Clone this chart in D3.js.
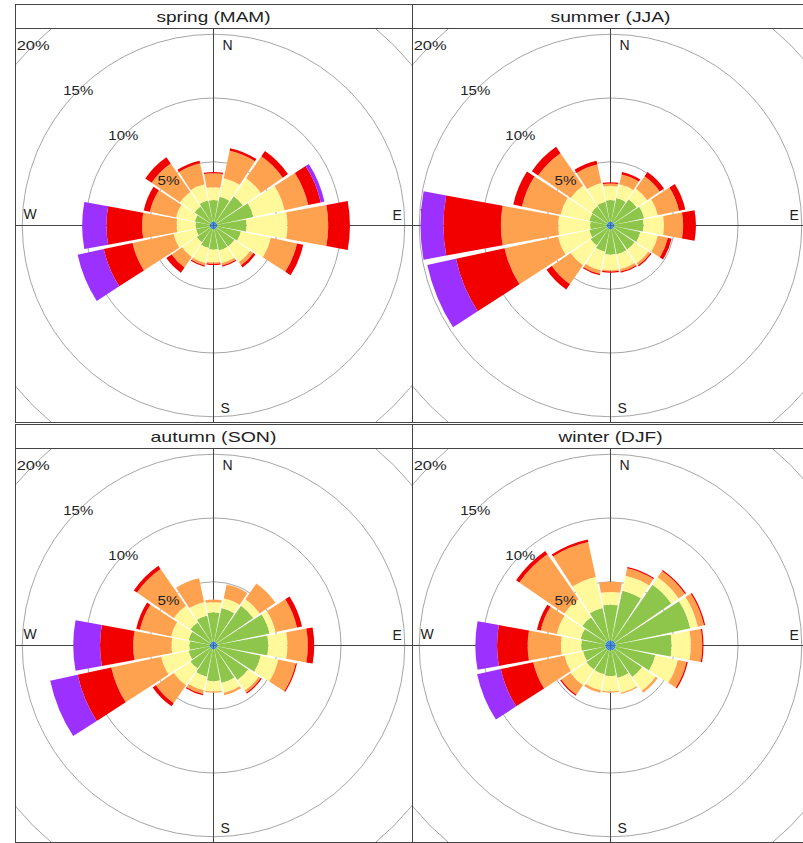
<!DOCTYPE html>
<html>
<head>
<meta charset="utf-8">
<script src="https://cdn.jsdelivr.net/npm/d3@7"></script>
<style>
  body { margin: 0; background: #fff; }
  text { font-family: Arial, "Liberation Sans", Helvetica, sans-serif; fill: #222; }
</style>
</head>
<body>
<svg id="chart" width="803" height="843"></svg>
<script>
// ---------- data ----------
const directions = [0, 22.5, 45, 67.5, 90, 112.5, 135, 157.5, 180, 202.5, 225, 247.5, 270, 292.5, 315, 337.5];
const seasons = ["spring (MAM)", "summer (JJA)", "autumn (SON)", "winter (DJF)"];
const speedBins = ["bin1", "bin2", "bin3", "bin4", "bin5", "bin6"];
const binColours = ["#2A78D0", "#8DC64A", "#FFF99C", "#FFA24F", "#F20000", "#9B30FF"];
const gridTicks = [5, 10, 15, 20];
const tickLabels = ["5%", "10%", "15%", "20%"];
const compass = ["N", "E", "S", "W"];

// frequency (%) per direction for each speed bin
const springB1 = [0.3,0.3,0.3,0.3,0.3,0.3,0.3,0.3,0.3,0.3,0.3,0.3,0.3,0.3,0.3,0.3];
const springB2 = [1.7,2.0,2.5,2.9,2.3,1.9,1.7,1.7,1.6,1.5,1.3,1.1,1.1,1.2,1.5,1.7];
const springB3 = [1.0,1.5,1.7,2.5,3.2,2.4,1.5,1.0,1.0,1.2,1.4,1.8,1.5,1.5,1.4,1.3];
const springB4 = [1.1,2.2,2.1,1.9,3.2,2.1,0.3,0.2,0.1,0.2,1.0,3.3,2.7,2.1,2.7,1.7];
const springB5 = [0.1,0.2,0.5,1.0,1.7,0.5,0.2,0.1,0.1,0.1,0.5,2.3,2.8,0.5,0.6,0.2];
const springB6 = [0,0,0,0.3,0,0,0,0,0,0,0,2.1,1.9,0,0,0];

const summerB1 = [0.3,0.3,0.3,0.3,0.3,0.3,0.3,0.3,0.3,0.3,0.3,0.3,0.3,0.3,0.3,0.3];
const summerB2 = [1.7,1.9,2.2,2.4,2.3,2.1,2.0,2.0,2.0,1.8,1.6,1.4,1.3,1.4,1.5,1.6];
const summerB3 = [1.1,1.1,1.0,1.1,1.6,1.4,1.3,1.2,1.2,1.5,1.9,2.5,2.5,2.3,2.0,1.5];
const summerB4 = [0.2,0.8,1.2,1.7,1.5,0.8,0.2,0.2,0.1,0.3,1.8,4.3,4.5,3.1,3.1,1.5];
const summerB5 = [0.1,0.2,0.4,0.5,1.0,0.3,0.1,0.1,0.1,0.1,0.5,3.9,4.5,0.7,0.6,0.3];
const summerB6 = [0,0,0,0,0,0,0,0,0,0,0,2.3,1.8,0,0,0];

const autumnB1 = [0.3,0.3,0.3,0.3,0.3,0.3,0.3,0.3,0.3,0.3,0.3,0.3,0.3,0.3,0.3,0.3];
const autumnB2 = [2.3,2.7,3.5,4.2,4.0,3.5,3.0,2.7,2.5,2.2,1.9,1.7,1.6,1.7,1.9,2.1];
const autumnB3 = [0.8,0.8,0.6,0.5,1.5,1.4,1.0,0.8,0.8,1.1,1.6,2.2,1.4,1.4,1.6,1.1];
const autumnB4 = [0.2,1.1,1.5,1.7,1.6,1.4,0.2,0.2,0.1,0.3,1.7,4.0,3.0,2.5,3.5,1.9];
const autumnB5 = [0,0,0,0.4,0.5,0.1,0.1,0,0,0.1,0.3,2.7,2.6,0.3,0.3,0];
const autumnB6 = [0,0,0,0,0,0,0,0,0,0,0,2.2,2.1,0,0,0];

const winterB1 = [0.4,0.4,0.4,0.4,0.4,0.4,0.4,0.4,0.4,0.4,0.4,0.4,0.4,0.4,0.4,0.4];
const winterB2 = [2.8,4.0,5.4,6.0,4.4,3.2,2.6,2.2,2.0,1.9,1.9,1.8,1.9,2.0,2.3,2.6];
const winterB3 = [1.0,1.2,0.7,0.6,1.5,1.8,1.3,1.2,1.2,1.3,1.5,1.5,1.6,1.9,1.7,2.5];
const winterB4 = [0.8,0.6,0.6,0.5,0.9,0.7,0.2,0.1,0.1,0.2,0.9,2.5,2.6,1.3,4.3,2.8];
const winterB5 = [0,0.1,0.1,0.1,0.1,0.1,0,0,0,0,0.1,2.6,2.4,0.3,0.3,0.2];
const winterB6 = [0,0,0,0,0,0,0,0,0,0,0,1.9,1.7,0,0,0];

const seasonData = [
  [springB1, springB2, springB3, springB4, springB5, springB6],
  [summerB1, summerB2, summerB3, summerB4, summerB5, summerB6],
  [autumnB1, autumnB2, autumnB3, autumnB4, autumnB5, autumnB6],
  [winterB1, winterB2, winterB3, winterB4, winterB5, winterB6]
];

// ---------- layout ----------
const svg = d3.select("#chart");
const colX = [15, 412];
const rowY = [4, 424];
const panelW = 397, stripH = 24, panelH = 395;
const stripTextLen = [114, 120, 126, 104];
const tickTextLen = [22, 30, 30, 33];

const sectorWidth = 22.5 * 0.92;
const rScale = d3.scaleLinear().domain([0, 20]).range([0, 255]);
const toRad = d => d * Math.PI / 180;
const arc = d3.arc();

seasons.forEach((name, si) => {
  const x0 = colX[si % 2], y0 = rowY[Math.floor(si / 2)];
  const py = y0 + stripH;
  const cx = x0 + panelW / 2, cy = py + panelH / 2;

  const clipId = "clip" + si;
  svg.append("clipPath").attr("id", clipId)
    .append("rect").attr("x", x0).attr("y", py).attr("width", panelW).attr("height", panelH);

  const panel = svg.append("g").attr("clip-path", `url(#${clipId})`);
  const g = panel.append("g").attr("transform", `translate(${cx},${cy})`);

  // grid circles
  g.selectAll("circle.grid").data(gridTicks).join("circle")
    .attr("class", "grid").attr("r", d => rScale(d))
    .attr("fill", "none").attr("stroke", "#a6a6a6").attr("stroke-width", 1);

  // axes
  g.append("line").attr("x1", 0).attr("x2", 0).attr("y1", -panelH).attr("y2", panelH)
    .attr("stroke", "#444").attr("stroke-width", 1);
  g.append("line").attr("y1", 0).attr("y2", 0).attr("x1", -panelW).attr("x2", panelW)
    .attr("stroke", "#444").attr("stroke-width", 1);

  // compass labels (under bars)
  const compassPos = {N: [9, -(panelH / 2) + 22, "start"], S: [7, panelH / 2 - 10, "start"],
                      W: [-190, -7, "start"], E: [179, -6, "start"]};
  compass.forEach(c => {
    const p = compassPos[c];
    g.append("text").attr("x", p[0]).attr("y", p[1]).attr("text-anchor", p[2])
      .attr("font-size", 14).text(c);
  });

  // stacked wedges
  const bins = seasonData[si];
  const wedges = [];
  directions.forEach((dir, di) => {
    let cum = 0;
    bins.forEach((arr, bi) => {
      const v = arr[di];
      if (v > 0) wedges.push({dir, inner: cum, outer: cum + v, bin: bi});
      cum += v;
    });
  });
  g.selectAll("path.wedge").data(wedges).join("path")
    .attr("class", "wedge")
    .attr("d", d => arc({innerRadius: rScale(d.inner), outerRadius: rScale(d.outer),
                         startAngle: toRad(d.dir - sectorWidth / 2), endAngle: toRad(d.dir + sectorWidth / 2)}))
    .attr("fill", d => binColours[d.bin]);

  // percentage labels (on top), along 315 degrees
  gridTicks.forEach((t, i) => {
    const r = rScale(t);
    g.append("text")
      .attr("x", -r * Math.SQRT1_2).attr("y", -r * Math.SQRT1_2)
      .attr("text-anchor", "middle").attr("dominant-baseline", "central")
      .attr("font-size", 13)
      .attr("textLength", tickTextLen[i]).attr("lengthAdjust", "spacingAndGlyphs")
      .text(tickLabels[i]);
  });

  // panel border
  svg.append("rect").attr("x", x0 + 0.5).attr("y", py + 0.5).attr("width", panelW).attr("height", panelH - 1)
    .attr("fill", "none").attr("stroke", "#444").attr("stroke-width", 1);
  // strip
  svg.append("rect").attr("x", x0 + 0.5).attr("y", y0 + 0.5).attr("width", panelW).attr("height", stripH)
    .attr("fill", "#fff").attr("stroke", "#444").attr("stroke-width", 1);
  svg.append("text").attr("x", cx).attr("y", y0 + stripH / 2 + 5.5)
    .attr("text-anchor", "middle").attr("font-size", 15)
    .attr("textLength", stripTextLen[si]).attr("lengthAdjust", "spacingAndGlyphs")
    .text(name);
});
</script>
</body>
</html>
